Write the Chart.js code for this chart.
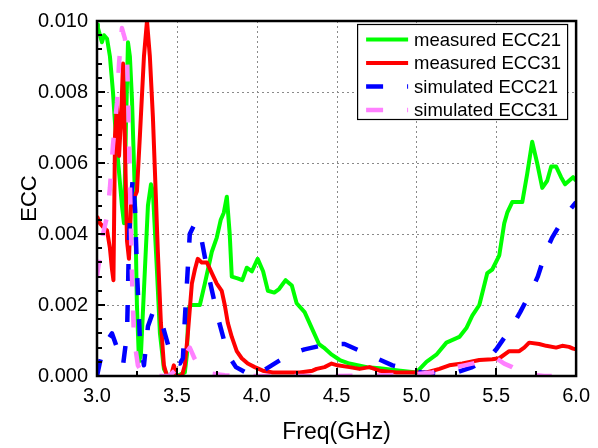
<!DOCTYPE html>
<html><head><meta charset="utf-8">
<script src="https://cdn.jsdelivr.net/npm/chart.js@4.4.0/dist/chart.umd.min.js"></script>
<style>html,body{margin:0;padding:0;background:#fff}</style>
</head><body>
<canvas id="c" width="598" height="448"></canvas>
<script>
// ---- data ----
const seriesLabels = ['measured ECC21','measured ECC31','simulated ECC21','simulated ECC31'];
const xTicks = [3.0,3.5,4.0,4.5,5.0,5.5,6.0];
const xTickLabels = ['3.0','3.5','4.0','4.5','5.0','5.5','6.0'];
const yTicks = [0,0.002,0.004,0.006,0.008,0.010];
const yTickLabels = ['0.000','0.002','0.004','0.006','0.008','0.010'];

const measEcc21Freq = [3.000,3.006,3.031,3.044,3.063,3.081,3.100,3.113,3.131,3.156,3.169,3.181,3.194,3.206,3.219,3.238,3.250,3.263,3.275,3.300,3.319,3.338,3.350,3.375,3.394,3.419,3.444,3.500,3.550,3.563,3.572,3.588,3.644,3.675,3.719,3.750,3.775,3.794,3.813,3.831,3.844,3.880,3.910,3.938,3.970,4.006,4.040,4.070,4.110,4.140,4.181,4.220,4.250,4.300,4.350,4.390,4.420,4.470,4.520,4.580,4.690,4.770,4.900,5.000,5.063,5.125,5.188,5.269,5.313,5.350,5.394,5.444,5.475,5.519,5.550,5.569,5.600,5.663,5.694,5.725,5.756,5.788,5.819,5.844,5.875,5.906,5.931,5.956,5.981,6.000];
const measEcc21 = [0.0099,0.0098,0.0094,0.0096,0.0095,0.0090,0.0080,0.0071,0.0061,0.0048,0.0043,0.0070,0.0094,0.0090,0.0078,0.0050,0.0020,0.0004,0.0006,0.0030,0.0048,0.0054,0.0052,0.0030,0.0012,0.0002,0.0000,0.0000,0.0001,0.0006,0.0019,0.0020,0.0020,0.0026,0.0035,0.0039,0.0044,0.0046,0.00505,0.0040,0.0028,0.00275,0.0027,0.00305,0.00295,0.0033,0.00295,0.0024,0.00235,0.00245,0.0027,0.00255,0.00205,0.0018,0.0013,0.0009,0.0008,0.0006,0.00045,0.00035,0.00025,0.00022,0.00015,0.0001,0.0004,0.0006,0.00094,0.0011,0.00135,0.0017,0.0020,0.0029,0.0030,0.0034,0.0043,0.0046,0.0049,0.0049,0.0057,0.0066,0.0060,0.0053,0.0055,0.0059,0.0059,0.0056,0.0054,0.0055,0.0056,0.0055];

const measEcc31Freq = [3.000,3.019,3.038,3.063,3.081,3.094,3.103,3.113,3.125,3.138,3.150,3.163,3.175,3.188,3.200,3.213,3.231,3.250,3.269,3.294,3.313,3.331,3.350,3.369,3.381,3.400,3.419,3.438,3.463,3.481,3.500,3.531,3.550,3.569,3.594,3.613,3.631,3.656,3.688,3.719,3.750,3.781,3.800,3.819,3.844,3.875,3.906,3.944,3.988,4.038,4.100,4.163,4.269,4.350,4.375,4.425,4.469,4.506,4.581,4.644,4.706,4.769,4.875,4.975,5.063,5.144,5.206,5.288,5.394,5.475,5.519,5.581,5.644,5.675,5.706,5.769,5.813,5.875,5.913,5.956,5.981,6.000];
const measEcc31 = [0.0045,0.0043,0.0042,0.0041,0.0036,0.0030,0.0027,0.0068,0.0076,0.0062,0.0072,0.0088,0.0065,0.0038,0.0033,0.0048,0.0050,0.0052,0.0068,0.0090,0.0100,0.0090,0.0073,0.0050,0.0035,0.0015,0.0003,0.0000,0.0000,0.0003,0.0000,0.0000,0.0003,0.0012,0.0026,0.0030,0.0033,0.0032,0.0032,0.0029,0.0026,0.0024,0.0020,0.0015,0.0011,0.0007,0.0005,0.00035,0.00025,0.00015,0.0001,0.0001,0.0001,0.00015,0.0002,0.00025,0.00035,0.0003,0.00025,0.0002,0.00025,0.00015,0.0001,0.0001,0.0001,0.0002,0.0003,0.00035,0.00045,0.00047,0.0005,0.0007,0.0007,0.0008,0.00094,0.0009,0.00085,0.0008,0.00085,0.00082,0.00077,0.00075];

const simEcc21Freq = [3.000,3.019,3.031,3.063,3.094,3.125,3.163,3.188,3.194,3.200,3.213,3.225,3.238,3.250,3.269,3.294,3.319,3.350,3.381,3.406,3.456,3.475,3.519,3.538,3.550,3.563,3.581,3.613,3.644,3.690,3.760,3.820,3.870,3.950,4.000,4.040,4.200,4.300,4.450,4.550,4.650,4.750,4.850,4.950,5.030,5.150,5.250,5.350,5.450,5.500,5.600,5.650,5.720,5.760,5.810,5.850,5.930,6.000];
const simEcc21 = [0.0000,0.0004,0.0006,0.0010,0.0012,0.0008,0.0003,0.0012,0.0024,0.0038,0.0050,0.0056,0.0047,0.0030,0.0010,0.0003,0.0014,0.0018,0.0018,0.0015,0.0007,0.0004,0.00035,0.0005,0.0016,0.0026,0.0040,0.0043,0.0041,0.0030,0.0016,0.0006,0.00025,0.00005,0.0000,0.00015,0.0006,0.00075,0.0009,0.0009,0.0007,0.0005,0.0003,0.0002,0.0001,0.00005,0.0001,0.00025,0.0005,0.00075,0.0014,0.0018,0.0024,0.0028,0.0035,0.0039,0.0045,0.0049];

const simEcc31Freq = [3.000,3.006,3.038,3.063,3.081,3.100,3.125,3.138,3.156,3.175,3.188,3.194,3.206,3.213,3.219,3.231,3.256,3.288,3.350,3.450,3.500,3.538,3.581,3.610,3.650,3.700,3.800,4.000,4.500,4.800,5.000,5.100,5.200,5.300,5.400,5.500,5.550,5.600,5.650,5.700,5.800,6.000];
const simEcc31 = [0.0028,0.0030,0.0040,0.0045,0.0053,0.0065,0.0077,0.0088,0.0098,0.0095,0.0090,0.0080,0.0055,0.0040,0.0028,0.0011,0.0003,0.00005,0.0000,0.0000,0.0002,0.0005,0.0008,0.0005,0.0002,0.00008,0.00002,0.0000,0.0000,0.00002,0.00005,0.0001,0.0002,0.0003,0.0004,0.0005,0.00035,0.00025,0.00012,0.00005,0.0000,0.0000];

// ---- chart ----
const FONT = '"Liberation Sans", Arial, sans-serif';
const zip = (xs, ys) => xs.map((x, i) => ({x, y: ys[i]}));

const decor = {
  id: 'decor',
  beforeDatasetsDraw(chart) {
    const {ctx, chartArea: a, scales: {x, y}} = chart;
    ctx.save();
    ctx.strokeStyle = '#8a8a8a';
    ctx.lineWidth = 1;
    ctx.setLineDash([2, 3]);
    xTicks.slice(1, -1).forEach(v => {
      const px = Math.round(x.getPixelForValue(v)) + 0.5;
      ctx.beginPath(); ctx.moveTo(px, a.top); ctx.lineTo(px, a.bottom); ctx.stroke();
    });
    yTicks.slice(1, -1).forEach(v => {
      const py = Math.round(y.getPixelForValue(v)) + 0.5;
      ctx.beginPath(); ctx.moveTo(a.left, py); ctx.lineTo(a.right, py); ctx.stroke();
    });
    ctx.restore();
  },
  afterDatasetsDraw(chart) {
    const {ctx, chartArea: a, scales: {x, y}} = chart;
    ctx.save();
    ctx.setLineDash([]);
    ctx.strokeStyle = '#000';
    // ticks (inward)
    ctx.lineWidth = 2;
    for (let v = 3.0; v <= 6.0001; v += 0.25) {
      const px = Math.round(x.getPixelForValue(v));
      const major = Math.abs(v * 2 - Math.round(v * 2)) < 1e-6;
      const len = major ? 8 : 5;
      ctx.beginPath(); ctx.moveTo(px, a.bottom); ctx.lineTo(px, a.bottom - len); ctx.stroke();
    }
    for (let k = 0; k <= 25; k++) {
      const v = k * 0.0004;
      const py = Math.round(y.getPixelForValue(v));
      const major = k % 5 === 0;
      const len = major ? 8 : 5;
      ctx.beginPath(); ctx.moveTo(a.left, py); ctx.lineTo(a.left + len, py); ctx.stroke();
    }
    // frame
    ctx.lineWidth = 2.5;
    ctx.strokeRect(a.left, a.top, a.right - a.left, a.bottom - a.top);
    // legend
    const lx = a.right - 219, ly = a.top + 3, lw = 210, lh = 95;
    ctx.fillStyle = '#fff';
    ctx.fillRect(lx, ly, lw, lh);
    ctx.lineWidth = 1.2;
    ctx.strokeStyle = '#000';
    ctx.strokeRect(lx + 0.5, ly + 0.5, lw, lh);
    ctx.font = '18.5px ' + FONT;
    ctx.textBaseline = 'middle';
    ctx.textAlign = 'left';
    chart.data.datasets.forEach((ds, i) => {
      const yy = ly + 15.5 + i * 23.5;
      ctx.save();
      ctx.strokeStyle = ds.borderColor;
      ctx.lineWidth = ds.borderWidth;
      ctx.setLineDash(ds.borderDash || []);
      ctx.beginPath(); ctx.moveTo(lx + 9, yy); ctx.lineTo(lx + 51, yy); ctx.stroke();
      ctx.restore();
      ctx.fillStyle = '#000';
      ctx.fillText(ds.label, lx + 57, yy + 1);
    });
    ctx.restore();
  }
};

new Chart(document.getElementById('c'), {
  type: 'line',
  data: {
    datasets: [
      {label: seriesLabels[0], data: zip(measEcc21Freq, measEcc21), borderColor: '#00ff00', borderWidth: 4, order: 4},
      {label: seriesLabels[1], data: zip(measEcc31Freq, measEcc31), borderColor: '#ff0000', borderWidth: 4, order: 3},
      {label: seriesLabels[2], data: zip(simEcc21Freq, simEcc21), borderColor: '#0000ff', borderWidth: 4.5, borderDash: [17, 24], order: 2},
      {label: seriesLabels[3], data: zip(simEcc31Freq, simEcc31), borderColor: '#ff80ff', borderWidth: 4.5, borderDash: [17, 24], order: 1}
    ]
  },
  options: {
    responsive: false,
    animation: false,
    devicePixelRatio: 1,
    layout: {padding: {left: 0, top: 14, right: 21, bottom: 0}},
    plugins: {legend: {display: false}, tooltip: {enabled: false}},
    elements: {
      point: {radius: 0, hoverRadius: 0},
      line: {tension: 0, fill: false, borderCapStyle: 'butt', borderJoinStyle: 'round'}
    },
    scales: {
      x: {
        type: 'linear', min: 3, max: 6,
        afterFit(s) { s.height = 72; },
        afterBuildTicks(s) { s.ticks = xTicks.map(v => ({value: v})); },
        grid: {display: false, drawTicks: false},
        border: {display: false},
        ticks: {padding: 8, color: '#000', font: {family: FONT, size: 20}, maxRotation: 0,
                callback: (v, i) => xTickLabels[i]},
        title: {display: true, text: 'Freq(GHz)', color: '#000', font: {family: FONT, size: 23},
                padding: {top: 0, bottom: 2}}
      },
      y: {
        type: 'linear', min: 0, max: 0.01,
        afterFit(s) { s.width = 97; },
        afterBuildTicks(s) { s.ticks = yTicks.map(v => ({value: v})); },
        grid: {display: false, drawTicks: false},
        border: {display: false},
        ticks: {padding: 9, color: '#000', font: {family: FONT, size: 20},
                callback: (v, i) => yTickLabels[i]},
        title: {display: true, text: 'ECC', color: '#000', font: {family: FONT, size: 22},
                padding: {top: 17, bottom: 0}}
      }
    }
  },
  plugins: [decor]
});
</script>
</body></html>
